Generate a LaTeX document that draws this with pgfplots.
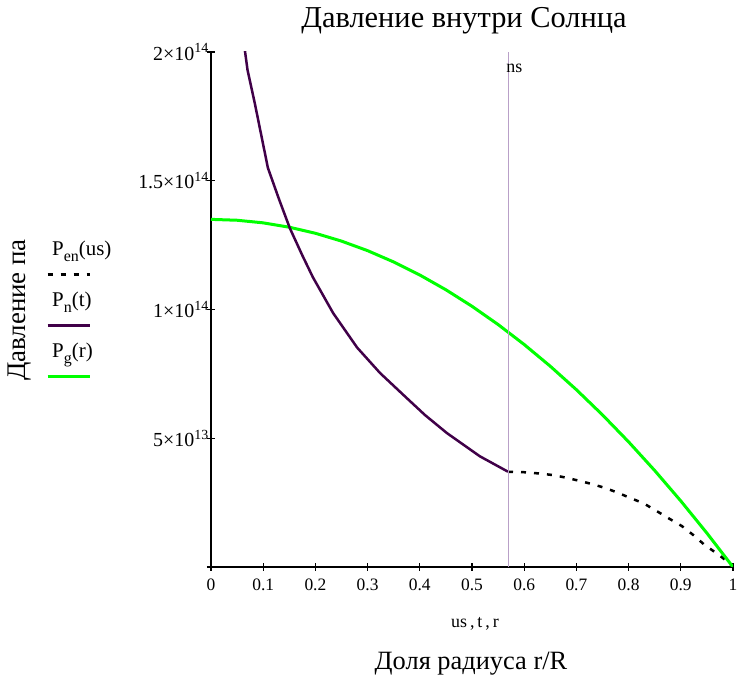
\documentclass[border=0pt]{standalone}
\usepackage{fontspec}
\setmainfont{Liberation Serif}
\usepackage{pgfplots}
\pgfplotsset{compat=1.18}
\definecolor{pn}{RGB}{64,0,72}
\definecolor{pg}{RGB}{0,255,0}
\definecolor{nsline}{RGB}{185,160,200}
\begin{document}
\begin{tikzpicture}
\path[use as bounding box] (-211bp,-113bp) rectangle (528bp,567bp);
\begin{axis}[
  at={(0bp,0bp)}, anchor=south west,
  scale only axis, width=522bp, height=515bp,
  xmin=0, xmax=1, ymin=0, ymax=2e14,
  axis lines=left,
  axis line style={-, line width=1.2bp, black},
  tick align=center, major tick length=8bp,
  tick style={black, line width=1.2bp},
  /pgf/number format/assume math mode=true,
  scaled y ticks=false, scaled x ticks=false,
  xtick={0,0.1,0.2,0.3,0.4,0.5,0.6,0.7,0.8,0.9,1},
  xticklabels={0,0.1,0.2,0.3,0.4,0.5,0.6,0.7,0.8,0.9,1},
  ytick={0,5e13,1e14,1.5e14,2e14},
  yticklabels={,5×10\textsuperscript{13},1×10\textsuperscript{14},1.5×10\textsuperscript{14},2×10\textsuperscript{14}},
  xticklabel style={font=\fontsize{17.5}{17.5}\selectfont, inner sep=0pt, yshift=-8bp},
  yticklabel style={font=\fontsize{20}{20}\selectfont, inner sep=0pt, xshift=2bp},
  legend style={at={(-0.3103,0.631)}, anchor=north west, draw=none, fill=none,
    inner sep=0pt, row sep=32bp,
    nodes={inner sep=0pt, text height=13bp, text depth=6bp, font=\fontsize{21}{21}\selectfont}},
  legend cell align=left,
  legend image code/.code={\path (0bp,0bp); \draw[#1, overlay] (-3bp,-23bp) -- (39bp,-23bp);},
]
\addplot[black, line width=2.5bp, dash pattern=on 5bp off 8bp] coordinates {
(0.569,0.37e14) (0.6,0.368e14) (0.63,0.363e14) (0.655,0.357e14) (0.68,0.347e14)
(0.707,0.334e14) (0.73,0.322e14) (0.755,0.307e14) (0.78,0.288e14) (0.803,0.268e14)
(0.828,0.248e14) (0.85,0.222e14) (0.876,0.19e14) (0.902,0.159e14) (0.924,0.124e14)
(0.946,0.085e14) (0.971,0.05e14) (0.99,0.02e14) (1,0)
};
\addlegendentry{P\raisebox{-6bp}{\fontsize{16}{16}\selectfont en}(us)}
\addplot[pg, line width=3bp, forget plot] coordinates {
(0,1.35e14) (0.05,1.3466e14) (0.1,1.3365e14) (0.15,1.3196e14) (0.2,1.296e14)
(0.25,1.2656e14) (0.3,1.2285e14) (0.35,1.1846e14) (0.4,1.134e14) (0.45,1.0766e14)
(0.5,1.0125e14) (0.55,0.9416e14) (0.6,0.864e14) (0.65,0.7796e14) (0.7,0.6885e14)
(0.75,0.5906e14) (0.8,0.486e14) (0.85,0.3746e14) (0.9,0.2565e14) (0.95,0.1316e14)
(1,0)
};
\addplot[pn, line width=2.5bp] coordinates {
(0.064,2.02e14) (0.07,1.93e14) (0.084,1.80e14) (0.097,1.67e14) (0.109,1.55e14)
(0.13,1.43e14) (0.151,1.316e14) (0.175,1.21e14) (0.195,1.126e14) (0.234,0.986e14)
(0.28,0.852e14) (0.324,0.753e14) (0.375,0.656e14) (0.41,0.59e14) (0.452,0.52e14)
(0.515,0.43e14) (0.569,0.37e14)
};
\addlegendentry{P\raisebox{-6bp}{\fontsize{16}{16}\selectfont n}(t)}
\addlegendimage{pg, line width=3bp}
\addlegendentry{P\raisebox{-6bp}{\fontsize{16}{16}\selectfont g}(r)}
\addplot[nsline, line width=1bp, forget plot] coordinates {(0.569,0) (0.569,2e14)};
\node[font=\fontsize{18}{18}\selectfont] at (axis cs:0.581,1.935e14) {ns};
\end{axis}
\node[font=\fontsize{30.5}{30.5}\selectfont] at (253bp,546bp) {Давление внутри Солнца};
\node[font=\fontsize{27}{27}\selectfont, rotate=90] at (-191bp,257bp) {Давление па};
\node[font=\fontsize{18}{18}\selectfont] at (264bp,-57bp) {us\,,\,t\,,\,r};
\node[font=\fontsize{26.5}{26.5}\selectfont] at (260bp,-97bp) {Доля радиуса r/R};
\end{tikzpicture}
\end{document}
